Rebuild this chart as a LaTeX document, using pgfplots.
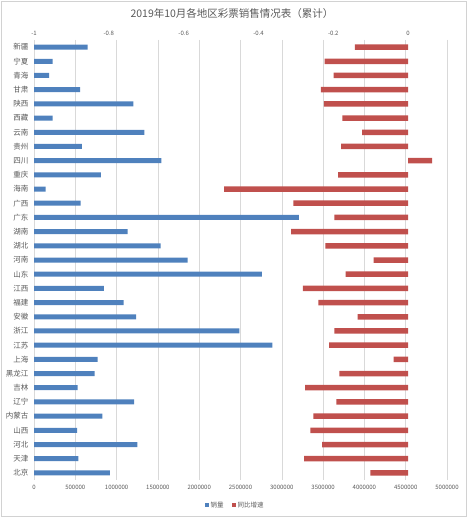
\documentclass[border=0pt]{standalone}
\usepackage{pgfplots}
\pgfplotsset{compat=1.18}
\usepackage{pgfplotstable}
\usepackage{fontspec}
\setmainfont{Noto Sans CJK SC}
\definecolor{sblue}{HTML}{4F81BD}
\definecolor{sred}{HTML}{C0504D}
\definecolor{gridc}{HTML}{D9D9D9}
\definecolor{txt}{HTML}{595959}

\pgfplotstableread{
idx sales growth
1 650000 -0.142
2 226000 -0.223
3 182000 -0.199
4 557000 -0.233
5 1202000 -0.225
6 226000 -0.176
7 1336000 -0.123
8 581000 -0.179
9 1541000 0.064
10 811000 -0.187
11 141000 -0.492
12 565000 -0.307
13 3208000 -0.197
14 1134000 -0.313
15 1534000 -0.221
16 1861000 -0.092
17 2760000 -0.167
18 847000 -0.281
19 1086000 -0.240
20 1235000 -0.135
21 2486000 -0.197
22 2885000 -0.211
23 771000 -0.039
24 735000 -0.184
25 529000 -0.275
26 1211000 -0.192
27 827000 -0.253
28 521000 -0.261
29 1251000 -0.230
30 537000 -0.278
31 920000 -0.101
}\datatable

\begin{document}
\begin{tikzpicture}
\path[use as bounding box] (0pt,0pt) rectangle (468pt,518pt);
\draw[gray!35, line width=0.8pt] (1.5pt,2pt) rectangle (466.5pt,516.5pt);
\node[text=txt, font=\fontsize{10.5}{12}\selectfont] at (232pt,504pt) {2019年10月各地区彩票销售情况表（累计）};

\begin{axis}[
  at={(34pt,38pt)}, anchor=south west,
  scale only axis, width=413pt, height=440pt,
  xmin=0, xmax=5000000, ymin=0.5, ymax=31.5, y dir=reverse,
  xbar, bar width=5pt,
  scaled x ticks=false,
  axis line style={draw=none}, major tick length=0pt,
  xtick={0,500000,1000000,1500000,2000000,2500000,3000000,3500000,4000000,4500000,5000000},
  xticklabels={0,500000,1000000,1500000,2000000,2500000,3000000,3500000,4000000,4500000,5000000},
  xticklabel style={font=\fontsize{6}{7}\selectfont, text=txt, yshift=-2pt},
  xmajorgrids, major grid style={gridc, line width=0.6pt},
  ytick={1,...,31},
  yticklabels={新疆,宁夏,青海,甘肃,陕西,西藏,云南,贵州,四川,重庆,海南,广西,广东,湖南,湖北,河南,山东,江西,福建,安徽,浙江,江苏,上海,黑龙江,吉林,辽宁,内蒙古,山西,河北,天津,北京},
  yticklabel style={font=\fontsize{7.5}{9}\selectfont, text=txt, xshift=-2pt},
  clip=false,
]
\addplot[fill=sblue, draw=none] table[x=sales, y=idx] {\datatable};
\end{axis}

\begin{axis}[
  at={(34pt,38pt)}, anchor=south west,
  scale only axis, width=413pt, height=440pt,
  xmin=-1, xmax=0.104, ymin=0.5, ymax=31.5, y dir=reverse,
  axis x line*=top, axis y line=none,
  xbar, bar width=5.5pt,
  scaled x ticks=false,
  axis line style={draw=none}, major tick length=0pt,
  xtick={-1,-0.8,-0.6,-0.4,-0.2,0},
  xticklabels={-1,-0.8,-0.6,-0.4,-0.2,0},
  xticklabel style={font=\fontsize{6}{7}\selectfont, text=txt, yshift=1pt},
  legend style={at={(0.487,-0.057)}, anchor=center, draw=none, fill=none,
    legend columns=2, font=\fontsize{6.5}{8}\selectfont, text=txt,
    /tikz/every even column/.append style={column sep=6pt}},
  legend image code/.code={\fill[#1] (0pt,-2pt) rectangle (4pt,2pt);},
]
\addlegendimage{fill=sblue, draw=none}
\addlegendentry{销量}
\addplot[fill=sred, draw=none] table[x=growth, y=idx] {\datatable};
\addlegendentry{同比增速}
\end{axis}
\end{tikzpicture}
\end{document}
